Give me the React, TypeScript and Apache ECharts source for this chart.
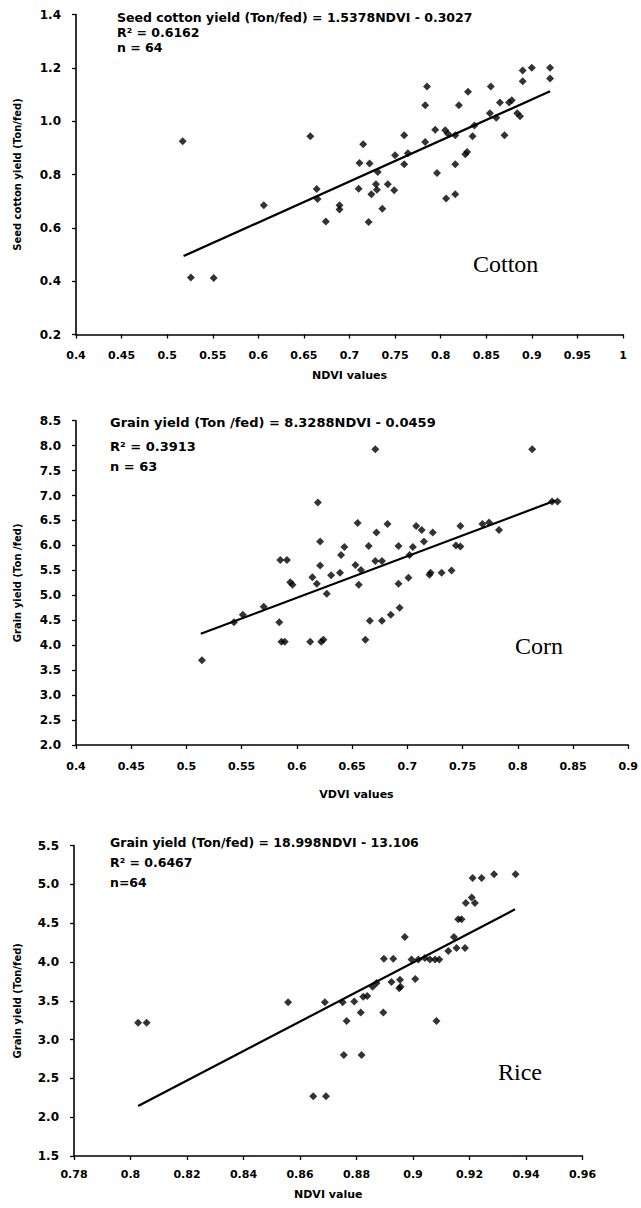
import React, { useEffect, useRef } from "react";
import * as echarts from "echarts";

// ---------- Cotton ----------
const cottonNdvi = [
  0.517, 0.526, 0.551, 0.606, 0.657, 0.664, 0.665, 0.674, 0.689, 0.689,
  0.71, 0.711, 0.715, 0.721, 0.722, 0.724, 0.73, 0.729, 0.731, 0.736,
  0.742, 0.749, 0.75, 0.76, 0.76, 0.764, 0.783, 0.783, 0.794, 0.796,
  0.805, 0.806, 0.808, 0.816, 0.816, 0.816, 0.82, 0.827, 0.829, 0.835,
  0.837, 0.854, 0.861, 0.87, 0.878, 0.884, 0.887, 0.785, 0.83, 0.855,
  0.865, 0.875, 0.89, 0.89, 0.9, 0.92, 0.92,
];
const cottonYield = [
  0.925, 0.414, 0.412, 0.685, 0.943, 0.746, 0.708, 0.624, 0.685, 0.669,
  0.747, 0.843, 0.913, 0.622, 0.841, 0.726, 0.743, 0.763, 0.809, 0.672,
  0.763, 0.741, 0.872, 0.947, 0.838, 0.88, 1.06, 0.922, 0.968, 0.806,
  0.966, 0.71, 0.953, 0.947, 0.838, 0.726, 1.06, 0.876, 0.884, 0.943,
  0.984, 1.03, 1.013, 0.947, 1.078, 1.03, 1.018, 1.13, 1.11, 1.13,
  1.07, 1.07, 1.15, 1.19, 1.2, 1.2, 1.16,
];
const cottonTrendX = [0.518, 0.92];
const cottonTrendY = [0.494, 1.112];
const cottonXTicks = { min: 0.4, max: 1, interval: 0.05 };
const cottonYTicks = { min: 0.2, max: 1.4, interval: 0.2 };

// ---------- Corn ----------
const cornNdvi = [
  0.514, 0.543, 0.551, 0.57, 0.584, 0.586, 0.589, 0.585, 0.591, 0.594,
  0.596, 0.612, 0.622, 0.624, 0.619, 0.621, 0.621, 0.614, 0.618, 0.627,
  0.631, 0.639, 0.64, 0.643, 0.671, 0.813, 0.831, 0.836, 0.655, 0.682,
  0.672, 0.665, 0.692, 0.708, 0.713, 0.723, 0.715, 0.705, 0.702, 0.653,
  0.658, 0.671, 0.677, 0.748, 0.768, 0.774, 0.783, 0.744, 0.748, 0.656,
  0.692, 0.701, 0.72, 0.721, 0.731, 0.74, 0.666, 0.677, 0.685, 0.693,
  0.662,
];
const cornYield = [
  3.7, 4.46, 4.61, 4.77, 4.46, 4.07, 4.07, 5.71, 5.71, 5.26,
  5.21, 4.07, 4.07, 4.11, 6.86, 6.08, 5.6, 5.36, 5.23, 5.03,
  5.4, 5.45, 5.81, 5.97, 7.93, 7.93, 6.88, 6.88, 6.45, 6.43,
  6.26, 5.99, 5.99, 6.39, 6.31, 6.26, 6.08, 5.97, 5.81, 5.61,
  5.51, 5.69, 5.69, 6.39, 6.43, 6.46, 6.31, 6.0, 5.98, 5.21,
  5.23, 5.35, 5.41, 5.45, 5.45, 5.5, 4.49, 4.49, 4.61, 4.75,
  4.11,
];
const cornTrendX = [0.513, 0.834];
const cornTrendY = [4.228, 6.9];
const cornXTicks = { min: 0.4, max: 0.9, interval: 0.05 };
const cornYTicks = { min: 2.0, max: 8.5, interval: 0.5 };

// ---------- Rice ----------
const riceNdvi = [
  0.8027, 0.8057, 0.8558, 0.8688, 0.8751, 0.8765, 0.8755, 0.8647, 0.8692, 0.8818,
  0.8815, 0.8895, 0.8792, 0.8824, 0.8838, 0.8857, 0.8871, 0.8924, 0.8954, 0.8956,
  0.8951, 0.9008, 0.9083, 0.8897, 0.893, 0.8971, 0.8995, 0.9019, 0.9042, 0.906,
  0.9078, 0.9093, 0.9125, 0.9154, 0.9184, 0.9145, 0.916, 0.9172, 0.9187, 0.9208,
  0.9219, 0.9211, 0.9243, 0.9287, 0.9363,
];
const riceYield = [
  3.216, 3.216, 3.48, 3.48, 3.48, 3.24, 2.8, 2.27, 2.27, 2.8,
  3.35, 3.35, 3.49, 3.55, 3.56, 3.68, 3.73, 3.74, 3.77, 3.68,
  3.66, 3.78, 3.24, 4.04, 4.04, 4.32, 4.03, 4.03, 4.05, 4.03,
  4.03, 4.03, 4.14, 4.18, 4.18, 4.32, 4.55, 4.55, 4.76, 4.83,
  4.76, 5.08, 5.08, 5.13, 5.13,
];
const riceTrendX = [0.8027, 0.9361];
const riceTrendY = [2.143, 4.678];
const riceXTicks = { min: 0.78, max: 0.96, interval: 0.02 };
const riceYTicks = { min: 1.5, max: 5.5, interval: 0.5 };

// ---------- Texts ----------
const cottonNotes = ["Seed cotton yield (Ton/fed) = 1.5378NDVI - 0.3027", "R² = 0.6162", "n = 64"];
const cornNotes = ["Grain yield (Ton /fed) = 8.3288NDVI - 0.0459", "R² = 0.3913", "n = 63"];
const riceNotes = ["Grain yield (Ton/fed) = 18.998NDVI - 13.106", "R² = 0.6467", "n=64"];
const cropNames = ["Cotton", "Corn", "Rice"];
const xTitles = ["NDVI values", "VDVI values", "NDVI value"];
const yTitles = ["Seed cotton yield (Ton/fed)", "Grain yield (Ton /fed)", "Grain yield (Ton/fed)"];

const grids = [
  { left: 76, top: 14.5, width: 547, height: 320 },
  { left: 76, top: 420.7, width: 561, height: 324.3 },
  { left: 74, top: 845.5, width: 508.5, height: 310.5 },
];

const LABEL_FONT = "DejaVu Sans";

function axisBase() {
  return {
    axisLine: { show: true, onZero: false, lineStyle: { color: "#000", width: 1.6 } },
    axisTick: { show: true, inside: false, length: 4, lineStyle: { color: "#000", width: 1.3 } },
    splitLine: { show: false },
    axisLabel: {
      color: "#000",
      fontFamily: LABEL_FONT,
      fontWeight: "bold" as const,
      fontSize: 11,
      margin: 12,
    },
  };
}

function zipPts(xs: number[], ys: number[]) {
  return xs.map((x, i) => [x, ys[i]]);
}

export default function App() {
  const ref = useRef<HTMLDivElement>(null);
  useEffect(() => {
    const chart = echarts.init(ref.current!, null, { renderer: "svg" });
    const xt = [cottonXTicks, cornXTicks, riceXTicks];
    const yt = [cottonYTicks, cornYTicks, riceYTicks];
    const pts = [
      zipPts(cottonNdvi, cottonYield),
      zipPts(cornNdvi, cornYield),
      zipPts(riceNdvi, riceYield),
    ];
    const trends = [
      zipPts(cottonTrendX, cottonTrendY),
      zipPts(cornTrendX, cornTrendY),
      zipPts(riceTrendX, riceTrendY),
    ];
    const notes = [cottonNotes, cornNotes, riceNotes];
    const noteLayout = [
      { x: 117, y: [17.5, 32.5, 47.5], size: 12.5 },
      { x: 110, y: [422, 446, 466], size: 13 },
      { x: 110, y: [842, 862.5, 882], size: 12.5 },
    ];
    const cropPos = [
      { x: 473, y: 264 },
      { x: 515, y: 646 },
      { x: 498, y: 1072 },
    ];
    const xLabelMargin = [15, 16, 13];
    const xTitleY = [375, 794, 1194];

    const graphic: any[] = [];
    notes.forEach((lines, gi) => {
      lines.forEach((t, li) => {
        graphic.push({
          type: "text",
          x: noteLayout[gi].x,
          y: noteLayout[gi].y[li],
          style: {
            text: t,
            fill: "#000",
            font: `bold ${noteLayout[gi].size}px "${LABEL_FONT}"`,
            textAlign: "left",
            textVerticalAlign: "middle",
          },
        });
      });
    });
    cropNames.forEach((n, gi) => {
      graphic.push({
        type: "text",
        x: cropPos[gi].x,
        y: cropPos[gi].y,
        style: {
          text: n,
          fill: "#000",
          font: `24px "Liberation Serif"`,
          textAlign: "left",
          textVerticalAlign: "middle",
        },
      });
    });
    xTitles.forEach((t, gi) => {
      const g = grids[gi];
      graphic.push({
        type: "text",
        x: g.left + g.width / 2,
        y: xTitleY[gi],
        style: {
          text: t,
          fill: "#000",
          font: `bold 11px "${LABEL_FONT}"`,
          textAlign: "center",
          textVerticalAlign: "middle",
        },
      });
    });
    yTitles.forEach((t, gi) => {
      const g = grids[gi];
      graphic.push({
        type: "text",
        x: 17,
        y: g.top + g.height / 2,
        rotation: Math.PI / 2,
        style: {
          text: t,
          fill: "#000",
          font: `bold 10px "${LABEL_FONT}"`,
          textAlign: "center",
          textVerticalAlign: "middle",
        },
      });
    });

    const option: any = {
      animation: false,
      backgroundColor: "#fff",
      grid: grids.map((g) => ({ ...g, containLabel: false })),
      xAxis: grids.map((_, i) => {
        const b = axisBase();
        return {
          type: "value",
          gridIndex: i,
          min: xt[i].min,
          max: xt[i].max,
          interval: xt[i].interval,
          ...b,
          axisLabel: { ...b.axisLabel, margin: xLabelMargin[i] },
        };
      }),
      yAxis: grids.map((_, i) => {
        const b = axisBase();
        return {
          type: "value",
          gridIndex: i,
          min: yt[i].min,
          max: yt[i].max,
          interval: yt[i].interval,
          ...b,
          axisLabel: { ...b.axisLabel, fontSize: 12, margin: 15, formatter: (v: number) => v.toFixed(1) },
        };
      }),
      series: [
        ...pts.map((d, i) => ({
          type: "scatter",
          xAxisIndex: i,
          yAxisIndex: i,
          data: d,
          symbol: "diamond",
          symbolSize: 8,
          itemStyle: { color: "#000" },
          z: 3,
        })),
        ...trends.map((d, i) => ({
          type: "line",
          xAxisIndex: i,
          yAxisIndex: i,
          data: d,
          symbol: "none",
          lineStyle: { color: "#000", width: 2.2 },
          z: 2,
        })),
      ],
      graphic,
    };
    chart.setOption(option);
    return () => chart.dispose();
  }, []);
  return (
    <div
      ref={ref}
      style={{ position: "absolute", left: 0, top: 0, width: 641, height: 1208, background: "#fff" }}
    />
  );
}
